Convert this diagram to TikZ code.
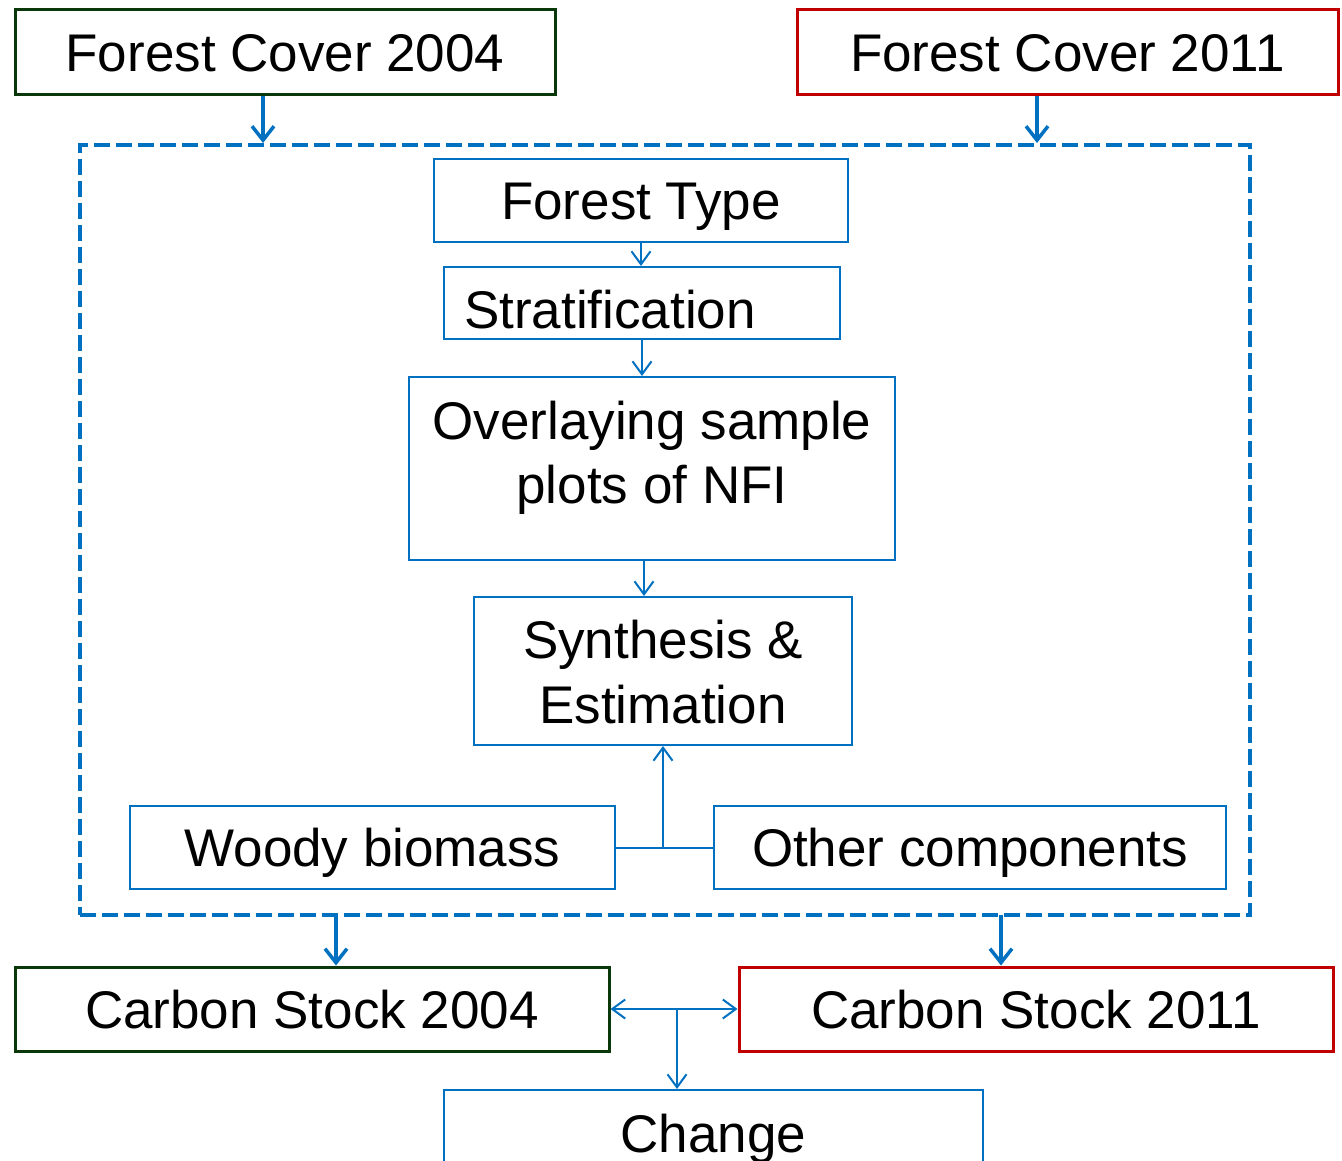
\documentclass[tikz,border=0pt]{standalone}
\usepackage{fontspec}
\setmainfont{Liberation Sans}
\usetikzlibrary{arrows.meta,calc}
\definecolor{dgreen}{RGB}{10,56,10}
\definecolor{dred}{RGB}{192,0,0}
\definecolor{mblue}{RGB}{0,112,192}
\tikzset{
  txt/.style={font=\fontsize{53}{65}\selectfont, text=black, text height=38pt, text depth=0pt, inner sep=0pt},
  mtxt/.style={font=\fontsize{53}{64.5}\selectfont, text=black, align=center, inner sep=0pt},
  greenbox/.style={draw=dgreen, line width=3pt, inner sep=0pt},
  redbox/.style={draw=dred, line width=3pt, inner sep=0pt},
  bluebox/.style={draw=mblue, line width=2pt, inner sep=0pt},
  frame/.style={draw=mblue, line width=4pt, dash pattern=on 16pt off 6pt, inner sep=0pt},
  thickarr/.style={draw=mblue, line width=3.5pt, -{Straight Barb[length=14pt,width=22pt,line width=3.5pt]}},
  thinarr/.style={draw=mblue, line width=2pt, -{Straight Barb[length=13pt,width=19pt,line width=2pt]}},
  thinline/.style={draw=mblue, line width=2pt},
}
\begin{document}
\begin{tikzpicture}[x=1pt,y=-1pt]
\useasboundingbox (0,0) rectangle (1342,1161);
% top boxes
\node[greenbox, minimum width=540pt, minimum height=85pt] (fc04) at (285,52.5) {};
\node[txt] (fc04t) at (fc04.center) {Forest Cover 2004};
\node[redbox, minimum width=541pt, minimum height=85pt] (fc11) at (1067.5,52.5) {};
\node[txt] (fc11t) at (fc11.center) {Forest Cover 2011};
% frame
\node[frame, minimum width=1170pt, minimum height=770pt] (fr) at (665,530) {};
% inner boxes
\node[bluebox, minimum width=414pt, minimum height=83pt] (ft) at (641,200.5) {};
\node[txt] (ftt) at (ft.center) {Forest Type};
\node[bluebox, minimum width=396pt, minimum height=72pt] (st) at (642,303) {};
\node[txt] (stt) at (610,309) {Stratification};
\node[bluebox, minimum width=486pt, minimum height=183pt] (ov) at (652,468.5) {};
\node[mtxt] (ovt) at (652,457.8) {Overlaying sample\\plots of NFI};
\node[bluebox, minimum width=378pt, minimum height=148pt] (syn) at (663,671) {};
\node[mtxt] (synt) at (663,672) {Synthesis \&\\Estimation};
\node[bluebox, minimum width=485pt, minimum height=83pt] (wb) at (372.5,847.5) {};
\node[txt] (wbt) at (wb.center) {Woody biomass};
\node[bluebox, minimum width=512pt, minimum height=83pt] (oc) at (970,847.5) {};
\node[txt] (oct) at (oc.center) {Other components};
% bottom boxes
\node[greenbox, minimum width=594pt, minimum height=84pt] (cs04) at (312,1009) {};
\node[txt] (cs04t) at (cs04.center) {Carbon Stock 2004};
\node[redbox, minimum width=594pt, minimum height=84pt] (cs11) at (1036,1009) {};
\node[txt] (cs11t) at (cs11.center) {Carbon Stock 2011};
\node[bluebox, minimum width=539pt, minimum height=72pt] (ch) at (713.5,1126) {};
\node[txt] (cht) at (713.5,1133) {Change};
% connectors
\draw[thickarr] ([xshift=-22pt]fc04.south) -- ([xshift=-22pt]fc04.south |- fr.north);
\draw[thickarr] ([xshift=-30.5pt]fc11.south) -- ([xshift=-30.5pt]fc11.south |- fr.north);
\draw[thinarr] (ft.south) -- (ft.south |- st.north);
\draw[thinarr] (st.south) -- (st.south |- ov.north);
\draw[thinarr] ([xshift=-8pt]ov.south) -- ([xshift=-8pt]ov.south |- syn.north);
\draw[thinline] (wb.east) -- (oc.west);
\draw[thinarr] (syn.south |- wb.east) -- (syn.south);
\coordinate (fb04) at (336,915);
\coordinate (fb11) at (1001,915);
\draw[thickarr] (fb04) -- (fb04 |- cs04.north);
\draw[thickarr] (fb11) -- (fb11 |- cs11.north);
\draw[thinline, {Straight Barb[length=13pt,width=19pt,line width=2pt]}-{Straight Barb[length=13pt,width=19pt,line width=2pt]}] (cs04.east) -- (cs11.west);
\coordinate (cj) at (677,1009);
\draw[thinarr] (cj) -- (cj |- ch.north);
\end{tikzpicture}
\end{document}
